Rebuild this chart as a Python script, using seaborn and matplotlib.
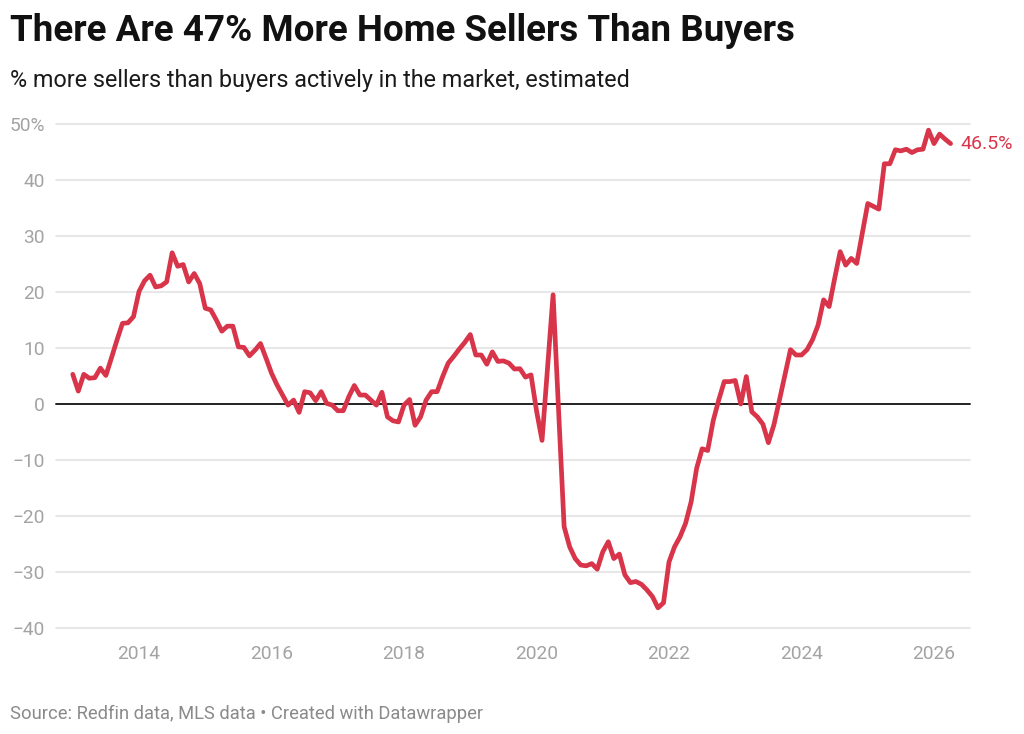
import numpy as np
import pandas as pd
import matplotlib
matplotlib.use("Agg")
import matplotlib.pyplot as plt
import seaborn as sns

# monthly values, Jan 2013 .. Apr 2026 (% more sellers than buyers)
start_year = 2013
values = [
    5.3, 2.3, 5.3, 4.6, 4.7, 6.4, 5.1, 8.2, 11.4, 14.4, 14.5, 15.6,          # 2013
    20.1, 22.0, 23.0, 20.9, 21.1, 21.8, 27.0, 24.6, 24.9, 21.8, 23.3, 21.5,  # 2014
    17.1, 16.8, 15.0, 13.0, 13.9, 13.9, 10.2, 10.1, 8.6, 9.6, 10.8, 8.2,     # 2015
    5.5, 3.4, 1.6, -0.2, 0.7, -1.5, 2.2, 2.0, 0.6, 2.2, 0.1, -0.2,           # 2016
    -1.2, -1.2, 1.3, 3.3, 1.6, 1.6, 0.7, -0.2, 2.1, -2.3, -3.0, -3.2,        # 2017
    -0.2, 0.8, -3.8, -2.3, 0.7, 2.2, 2.2, 4.9, 7.3, 8.5, 9.8, 11.0,          # 2018
    12.4, 8.75, 8.75, 7.1, 9.3, 7.6, 7.7, 7.3, 6.25, 6.3, 4.8, 5.2,          # 2019
    -1.2, -6.5, 6.5, 19.5, -1.0, -21.9, -25.5, -27.6, -28.75, -28.9, -28.5, -29.5,  # 2020
    -26.4, -24.6, -27.6, -26.8, -30.5, -31.9, -31.7, -32.2, -33.2, -34.4, -36.4, -35.5,  # 2021
    -28.2, -25.5, -23.7, -21.3, -17.5, -11.5, -8.0, -8.3, -3.0, 0.7, 4.0, 4.0,  # 2022
    4.2, 0.0, 4.9, -1.4, -2.3, -3.6, -6.9, -3.7, 0.7, 5.2, 9.7, 8.75,        # 2023
    8.75, 9.7, 11.5, 14.1, 18.6, 17.4, 22.4, 27.2, 24.8, 26.0, 25.1, 30.5,   # 2024
    35.8, 35.3, 34.8, 42.9, 42.9, 45.4, 45.2, 45.5, 44.9, 45.4, 45.5, 48.9,  # 2025
    46.5, 48.2, 47.3, 46.5,                                                  # 2026
]
x_ticks = [2014, 2016, 2018, 2020, 2022, 2024, 2026]
y_ticks = [-40, -30, -20, -10, 0, 10, 20, 30, 40, 50]
y_tick_labels = ["\u221240", "\u221230", "\u221220", "\u221210", "0", "10", "20", "30", "40", "50%"]
last_label = "46.5%"

title = "There Are 47% More Home Sellers Than Buyers"
subtitle = "% more sellers than buyers actively in the market, estimated"
source = "Source: Redfin data, MLS data \u2022 Created with Datawrapper"

RED = "#d8354a"
GRAY = "#a3a3a3"

df = pd.DataFrame({"year": start_year + np.arange(len(values)) / 12.0, "value": values})

sns.set_style("white")
plt.rcParams["font.family"] = ["Roboto", "DejaVu Sans"]

W, H = 1024, 734
fig = plt.figure(figsize=(W / 100, H / 100), dpi=100)
left, right, top, bottom = 56, 970, 124, 628
ax = fig.add_axes([left / W, 1 - bottom / H, (right - left) / W, (bottom - top) / H])

# grid lines
for yv in y_ticks:
    if yv == 0:
        continue
    ax.axhline(yv, color="#e3e3e3", lw=1.2, zorder=0)
ax.axhline(0, color="#222222", lw=1.4, zorder=1)

sns.lineplot(data=df, x="year", y="value", ax=ax, color=RED, lw=3.4, zorder=3)
for line in ax.get_lines():
    line.set_clip_on(False)
    line.set_solid_joinstyle("round")
    line.set_solid_capstyle("round")

ax.set_xlim(2012.747, 2026.543)
ax.set_ylim(-40, 50)
ax.set_xticks(x_ticks)
ax.set_xticklabels([str(t) for t in x_ticks])
ax.set_yticks(y_ticks)
ax.set_yticklabels(y_tick_labels)
ax.tick_params(axis="both", length=0, labelsize=13.8, labelcolor=GRAY)
ax.tick_params(axis="y", pad=8)
ax.tick_params(axis="x", pad=12)
ax.set_xlabel("")
ax.set_ylabel("")
for s in ax.spines.values():
    s.set_visible(False)

ax.annotate(last_label, xy=(df["year"].iloc[-1], values[-1]), xytext=(7, 0),
            textcoords="offset points", color=RED, fontsize=14, va="center", ha="left",
            annotation_clip=False)

fig.text(10 / W, 1 - 31 / H, title, fontsize=26.5, fontweight="bold", color="#111111", va="center", ha="left")
fig.text(10 / W, 1 - 80 / H, subtitle, fontsize=16.8, color="#1a1a1a", va="center", ha="left")
fig.text(10 / W, 1 - 714 / H, source, fontsize=13.2, color="#8a8a8a", va="center", ha="left")

fig.savefig("out.png", dpi=100, facecolor="white")
